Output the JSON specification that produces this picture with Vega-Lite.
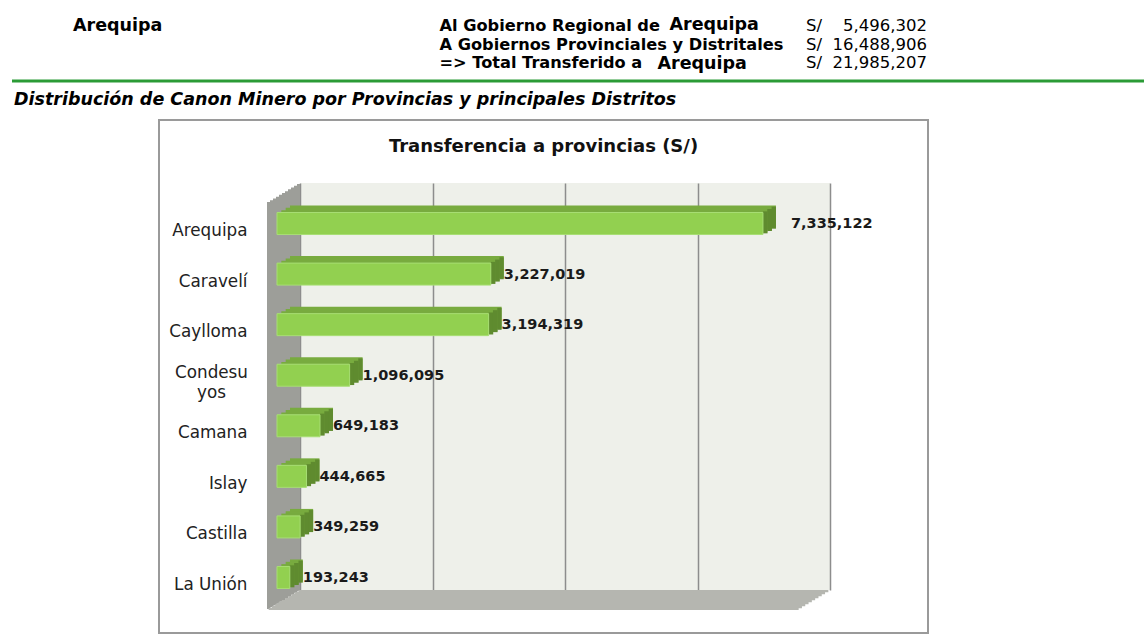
{
  "$schema": "https://vega.github.io/schema/vega-lite/v6.json",
  "padding": 0,
  "background": "#ffffff",
  "spacing": 72,
  "bounds": "flush",
  "config": {"view": {"stroke": null}, "concat": {"spacing": 0}},
  "datasets": {
    "header": [
      {"row": "r1", "col": "region", "part": "name", "text": "Arequipa"},
      {"row": "r1", "col": "concept", "part": "label", "text": "Al Gobierno Regional de"},
      {"row": "r1", "col": "concept", "part": "place", "text": "Arequipa"},
      {"row": "r1", "col": "amount", "part": "currency", "text": "S/"},
      {"row": "r1", "col": "amount", "part": "value", "amount": 5496302},
      {"row": "r2", "col": "concept", "part": "label", "text": "A Gobiernos Provinciales y Distritales"},
      {"row": "r2", "col": "amount", "part": "currency", "text": "S/"},
      {"row": "r2", "col": "amount", "part": "value", "amount": 16488906},
      {"row": "r3", "col": "concept", "part": "label", "text": "=> Total Transferido a"},
      {"row": "r3", "col": "concept", "part": "place", "text": "Arequipa"},
      {"row": "r3", "col": "amount", "part": "currency", "text": "S/"},
      {"row": "r3", "col": "amount", "part": "value", "amount": 21985207},
      {"row": "sub", "col": "region", "part": "subtitle", "text": "Distribución de Canon Minero por Provincias y principales Distritos"}
    ],
    "provinces": [
      {"province": "Arequipa", "amount": 7335122},
      {"province": "Caravelí", "amount": 3227019},
      {"province": "Caylloma", "amount": 3194319},
      {"province": "Condesuyos", "amount": 1096095},
      {"province": "Camana", "amount": 649183},
      {"province": "Islay", "amount": 444665},
      {"province": "Castilla", "amount": 349259},
      {"province": "La Unión", "amount": 193243}
    ]
  },
  "vconcat": [
    {
      "width": 1144,
      "height": 111,
      "data": {"name": "header"},
      "layer": [
        {
          "transform": [{"filter": "datum.part === 'name'"}],
          "mark": {"type": "text", "align": "left", "baseline": "middle", "font": "DejaVu Sans", "fontWeight": "bold", "fontSize": 17.5, "color": "#000000"},
          "encoding": {
            "x": {"field": "col", "type": "nominal", "scale": {"type": "point", "domain": ["region", "concept", "amount"], "padding": 0.5607, "align": 0.1776}, "axis": null},
            "y": {"field": "row", "type": "nominal", "scale": {"type": "point", "domain": ["r1", "r2", "r3", "line", "sub"], "padding": 1, "align": 0.703}, "axis": null},
            "text": {"field": "text"}
          }
        },
        {
          "transform": [{"filter": "datum.part === 'label'"}],
          "mark": {"type": "text", "align": "left", "baseline": "middle", "font": "DejaVu Sans", "fontWeight": "bold", "fontSize": 16.2, "color": "#000000"},
          "encoding": {"x": {"field": "col", "type": "nominal"}, "y": {"field": "row", "type": "nominal"}, "text": {"field": "text"}}
        },
        {
          "transform": [{"filter": "datum.part === 'place' && datum.row === 'r1'"}],
          "mark": {"type": "text", "align": "left", "baseline": "middle", "font": "DejaVu Sans", "fontWeight": "bold", "fontSize": 17.5, "color": "#000000", "dx": 230, "dy": -1},
          "encoding": {"x": {"field": "col", "type": "nominal"}, "y": {"field": "row", "type": "nominal"}, "text": {"field": "text"}}
        },
        {
          "transform": [{"filter": "datum.part === 'place' && datum.row === 'r3'"}],
          "mark": {"type": "text", "align": "left", "baseline": "middle", "font": "DejaVu Sans", "fontWeight": "bold", "fontSize": 17.5, "color": "#000000", "dx": 218, "dy": 1},
          "encoding": {"x": {"field": "col", "type": "nominal"}, "y": {"field": "row", "type": "nominal"}, "text": {"field": "text"}}
        },
        {
          "transform": [{"filter": "datum.part === 'currency'"}],
          "mark": {"type": "text", "align": "left", "baseline": "middle", "font": "DejaVu Sans", "fontSize": 16.5, "color": "#000000"},
          "encoding": {"x": {"field": "col", "type": "nominal"}, "y": {"field": "row", "type": "nominal"}, "text": {"field": "text"}}
        },
        {
          "transform": [{"filter": "datum.part === 'value'"}],
          "mark": {"type": "text", "align": "right", "baseline": "middle", "font": "DejaVu Sans", "fontSize": 16.5, "color": "#000000", "dx": 121},
          "encoding": {"x": {"field": "col", "type": "nominal"}, "y": {"field": "row", "type": "nominal"}, "text": {"field": "amount", "type": "quantitative", "format": ",d"}}
        },
        {
          "transform": [{"filter": "datum.part === 'subtitle'"}],
          "mark": {"type": "rule", "color": "#2b9b36", "strokeWidth": 3, "xOffset": 12, "yOffset": -19},
          "encoding": {"x": {"value": 0}, "x2": {"value": "width"}, "y": {"field": "row", "type": "nominal"}}
        },
        {
          "transform": [{"filter": "datum.part === 'subtitle'"}],
          "mark": {"type": "text", "align": "left", "baseline": "middle", "font": "DejaVu Sans", "fontWeight": "bold", "fontStyle": "italic", "fontSize": 17.5, "color": "#000000", "dx": -59},
          "encoding": {"x": {"field": "col", "type": "nominal"}, "y": {"field": "row", "type": "nominal"}, "text": {"field": "text"}}
        }
      ]
    },
    {
      "spacing": 0,
      "bounds": "flush",
      "hconcat": [
        {"width": 300, "height": 407, "data": {"values": [{}]}, "mark": {"type": "point", "opacity": 0, "size": 0}, "encoding": {"x": {"value": 0}, "y": {"value": 0}}},
        {
          "width": 530,
          "height": 407,
          "view": {"fill": "#eef0ea", "stroke": null},
          "data": {"name": "provinces"},
          "layer": [
            {"transform": [{"aggregate": [{"op": "count", "as": "n"}]}], "mark": {"type": "rect", "filled": false, "stroke": "#9a9a9a", "strokeWidth": 2, "xOffset": -141, "x2Offset": 98, "yOffset": -63, "y2Offset": 43}, "encoding": {"x": {"value": 0}, "x2": {"value": "width"}, "y": {"value": 0}, "y2": {"value": "height"}}},
            {"transform": [{"aggregate": [{"op": "count", "as": "n"}]}], "mark": {"type": "rect", "color": "#9d9e99", "xOffset": -33, "x2Offset": -29.5, "yOffset": 19.09, "y2Offset": 19.09}, "encoding": {"x": {"value": 0}, "x2": {"value": 0}, "y": {"value": 0}, "y2": {"value": "height"}}},
            {"transform": [{"aggregate": [{"op": "count", "as": "n"}]}], "mark": {"type": "rect", "color": "#9d9e99", "xOffset": -30, "x2Offset": -26.5, "yOffset": 17.27, "y2Offset": 17.27}, "encoding": {"x": {"value": 0}, "x2": {"value": 0}, "y": {"value": 0}, "y2": {"value": "height"}}},
            {"transform": [{"aggregate": [{"op": "count", "as": "n"}]}], "mark": {"type": "rect", "color": "#9d9e99", "xOffset": -27, "x2Offset": -23.5, "yOffset": 15.45, "y2Offset": 15.45}, "encoding": {"x": {"value": 0}, "x2": {"value": 0}, "y": {"value": 0}, "y2": {"value": "height"}}},
            {"transform": [{"aggregate": [{"op": "count", "as": "n"}]}], "mark": {"type": "rect", "color": "#9d9e99", "xOffset": -24, "x2Offset": -20.5, "yOffset": 13.64, "y2Offset": 13.64}, "encoding": {"x": {"value": 0}, "x2": {"value": 0}, "y": {"value": 0}, "y2": {"value": "height"}}},
            {"transform": [{"aggregate": [{"op": "count", "as": "n"}]}], "mark": {"type": "rect", "color": "#9d9e99", "xOffset": -21, "x2Offset": -17.5, "yOffset": 11.82, "y2Offset": 11.82}, "encoding": {"x": {"value": 0}, "x2": {"value": 0}, "y": {"value": 0}, "y2": {"value": "height"}}},
            {"transform": [{"aggregate": [{"op": "count", "as": "n"}]}], "mark": {"type": "rect", "color": "#9d9e99", "xOffset": -18, "x2Offset": -14.5, "yOffset": 10, "y2Offset": 10}, "encoding": {"x": {"value": 0}, "x2": {"value": 0}, "y": {"value": 0}, "y2": {"value": "height"}}},
            {"transform": [{"aggregate": [{"op": "count", "as": "n"}]}], "mark": {"type": "rect", "color": "#9d9e99", "xOffset": -15, "x2Offset": -11.5, "yOffset": 8.18, "y2Offset": 8.18}, "encoding": {"x": {"value": 0}, "x2": {"value": 0}, "y": {"value": 0}, "y2": {"value": "height"}}},
            {"transform": [{"aggregate": [{"op": "count", "as": "n"}]}], "mark": {"type": "rect", "color": "#9d9e99", "xOffset": -12, "x2Offset": -8.5, "yOffset": 6.36, "y2Offset": 6.36}, "encoding": {"x": {"value": 0}, "x2": {"value": 0}, "y": {"value": 0}, "y2": {"value": "height"}}},
            {"transform": [{"aggregate": [{"op": "count", "as": "n"}]}], "mark": {"type": "rect", "color": "#9d9e99", "xOffset": -9, "x2Offset": -5.5, "yOffset": 4.55, "y2Offset": 4.55}, "encoding": {"x": {"value": 0}, "x2": {"value": 0}, "y": {"value": 0}, "y2": {"value": "height"}}},
            {"transform": [{"aggregate": [{"op": "count", "as": "n"}]}], "mark": {"type": "rect", "color": "#9d9e99", "xOffset": -6, "x2Offset": -2.5, "yOffset": 2.73, "y2Offset": 2.73}, "encoding": {"x": {"value": 0}, "x2": {"value": 0}, "y": {"value": 0}, "y2": {"value": "height"}}},
            {"transform": [{"aggregate": [{"op": "count", "as": "n"}]}], "mark": {"type": "rect", "color": "#9d9e99", "xOffset": -3, "x2Offset": 0, "yOffset": 0.91, "y2Offset": 0.91}, "encoding": {"x": {"value": 0}, "x2": {"value": 0}, "y": {"value": 0}, "y2": {"value": "height"}}},
            {"transform": [{"aggregate": [{"op": "count", "as": "n"}]}], "mark": {"type": "rect", "color": "#b5b6b0", "xOffset": -1.65, "x2Offset": -1.65, "yOffset": 407, "y2Offset": 2.3}, "encoding": {"x": {"value": 0}, "x2": {"value": "width"}, "y": {"value": 0}, "y2": {"value": "height"}}},
            {"transform": [{"aggregate": [{"op": "count", "as": "n"}]}], "mark": {"type": "rect", "color": "#b5b6b0", "xOffset": -4.95, "x2Offset": -4.95, "yOffset": 409, "y2Offset": 4.3}, "encoding": {"x": {"value": 0}, "x2": {"value": "width"}, "y": {"value": 0}, "y2": {"value": "height"}}},
            {"transform": [{"aggregate": [{"op": "count", "as": "n"}]}], "mark": {"type": "rect", "color": "#b5b6b0", "xOffset": -8.25, "x2Offset": -8.25, "yOffset": 411, "y2Offset": 6.3}, "encoding": {"x": {"value": 0}, "x2": {"value": "width"}, "y": {"value": 0}, "y2": {"value": "height"}}},
            {"transform": [{"aggregate": [{"op": "count", "as": "n"}]}], "mark": {"type": "rect", "color": "#b5b6b0", "xOffset": -11.55, "x2Offset": -11.55, "yOffset": 413, "y2Offset": 8.3}, "encoding": {"x": {"value": 0}, "x2": {"value": "width"}, "y": {"value": 0}, "y2": {"value": "height"}}},
            {"transform": [{"aggregate": [{"op": "count", "as": "n"}]}], "mark": {"type": "rect", "color": "#b5b6b0", "xOffset": -14.85, "x2Offset": -14.85, "yOffset": 415, "y2Offset": 10.3}, "encoding": {"x": {"value": 0}, "x2": {"value": "width"}, "y": {"value": 0}, "y2": {"value": "height"}}},
            {"transform": [{"aggregate": [{"op": "count", "as": "n"}]}], "mark": {"type": "rect", "color": "#b5b6b0", "xOffset": -18.15, "x2Offset": -18.15, "yOffset": 417, "y2Offset": 12.3}, "encoding": {"x": {"value": 0}, "x2": {"value": "width"}, "y": {"value": 0}, "y2": {"value": "height"}}},
            {"transform": [{"aggregate": [{"op": "count", "as": "n"}]}], "mark": {"type": "rect", "color": "#b5b6b0", "xOffset": -21.45, "x2Offset": -21.45, "yOffset": 419, "y2Offset": 14.3}, "encoding": {"x": {"value": 0}, "x2": {"value": "width"}, "y": {"value": 0}, "y2": {"value": "height"}}},
            {"transform": [{"aggregate": [{"op": "count", "as": "n"}]}], "mark": {"type": "rect", "color": "#b5b6b0", "xOffset": -24.75, "x2Offset": -24.75, "yOffset": 421, "y2Offset": 16.3}, "encoding": {"x": {"value": 0}, "x2": {"value": "width"}, "y": {"value": 0}, "y2": {"value": "height"}}},
            {"transform": [{"aggregate": [{"op": "count", "as": "n"}]}], "mark": {"type": "rect", "color": "#b5b6b0", "xOffset": -28.05, "x2Offset": -28.05, "yOffset": 423, "y2Offset": 18.3}, "encoding": {"x": {"value": 0}, "x2": {"value": "width"}, "y": {"value": 0}, "y2": {"value": "height"}}},
            {"transform": [{"aggregate": [{"op": "count", "as": "n"}]}], "mark": {"type": "rect", "color": "#b5b6b0", "xOffset": -31.35, "x2Offset": -31.35, "yOffset": 425, "y2Offset": 20}, "encoding": {"x": {"value": 0}, "x2": {"value": "width"}, "y": {"value": 0}, "y2": {"value": "height"}}},
            {
              "mark": {"type": "bar", "color": "#78ab3f", "xOffset": -10, "x2Offset": -10, "yOffset": 7},
              "encoding": {
                "x": {"field": "amount", "type": "quantitative", "scale": {"type": "linear", "domain": [0, 8000000], "nice": false, "zero": true},
                  "axis": {"orient": "top", "values": [0, 2000000, 4000000, 6000000, 8000000], "grid": true, "gridColor": "#8d8d8d", "gridWidth": 1.5, "labels": false, "ticks": false, "domain": false,
                    "title": "Transferencia a provincias (S/)", "titleFont": "DejaVu Sans", "titleFontSize": 18, "titleFontWeight": "bold", "titleColor": "#111111", "titleX": 243, "titleY": -37, "titleBaseline": "middle", "titleAlign": "center"}},
                "y": {"field": "province", "type": "nominal", "sort": null,
                  "scale": {"type": "band", "domain": ["Arequipa", "Caravelí", "Caylloma", "Condesuyos", "Camana", "Islay", "Castilla", "La Unión"], "paddingInner": 0.565, "paddingOuter": 0.307},
                  "axis": {"orient": "left", "title": null, "domain": false, "ticks": false, "tickSize": 0, "grid": false,
                    "labelPadding": {"condition": {"test": "length(datum.value) > 9", "value": 89}, "value": 53},
                    "labelAlign": {"condition": {"test": "length(datum.value) > 9", "value": "center"}, "value": "right"},
                    "labelOffset": {"condition": {"test": "length(datum.value) > 9", "value": 11.5}, "value": 21.5},
                    "labelFont": "DejaVu Sans", "labelFontSize": 16.8, "labelColor": "#222222", "labelBaseline": "middle", "labelLineHeight": 20, "labelOverlap": false, "labelLimit": 300,
                    "labelExpr": "length(datum.label) > 9 ? [slice(datum.label, 0, 7), slice(datum.label, 7)] : datum.label"}}
              }
            },
            {"mark": {"type": "bar", "color": "#78ab3f", "xOffset": -14.33, "x2Offset": -14.33, "yOffset": 9.33}, "encoding": {"x": {"field": "amount", "type": "quantitative"}, "y": {"field": "province", "type": "nominal", "sort": null}}},
            {"mark": {"type": "bar", "color": "#78ab3f", "xOffset": -18.67, "x2Offset": -18.67, "yOffset": 11.67}, "encoding": {"x": {"field": "amount", "type": "quantitative"}, "y": {"field": "province", "type": "nominal", "sort": null}}},
            {"mark": {"type": "rect", "color": "#5f8b2f", "xOffset": -23, "x2Offset": -18.4, "yOffset": 12.83}, "encoding": {"x": {"field": "amount", "type": "quantitative"}, "x2": {"field": "amount"}, "y": {"field": "province", "type": "nominal", "sort": null}}},
            {"mark": {"type": "rect", "color": "#5f8b2f", "xOffset": -18.67, "x2Offset": -14.0, "yOffset": 10.5}, "encoding": {"x": {"field": "amount", "type": "quantitative"}, "x2": {"field": "amount"}, "y": {"field": "province", "type": "nominal", "sort": null}}},
            {"mark": {"type": "rect", "color": "#5f8b2f", "xOffset": -14.33, "x2Offset": -10, "yOffset": 8.17}, "encoding": {"x": {"field": "amount", "type": "quantitative"}, "x2": {"field": "amount"}, "y": {"field": "province", "type": "nominal", "sort": null}}},
            {"mark": {"type": "bar", "fill": "#92d050", "stroke": "#a8de74", "strokeWidth": 1, "xOffset": -23, "x2Offset": -23, "yOffset": 14}, "encoding": {"x": {"field": "amount", "type": "quantitative"}, "y": {"field": "province", "type": "nominal", "sort": null}}},
            {
              "transform": [{"filter": "datum.province !== 'Arequipa'"}],
              "mark": {"type": "text", "align": "left", "baseline": "middle", "dx": -10, "dy": 14.5, "font": "DejaVu Sans", "fontWeight": "bold", "fontSize": 14.5, "color": "#1a1a1a"},
              "encoding": {"x": {"field": "amount", "type": "quantitative"}, "y": {"field": "province", "type": "nominal", "sort": null}, "text": {"field": "amount", "type": "quantitative", "format": ",d"}}
            },
            {
              "transform": [{"filter": "datum.province === 'Arequipa'"}],
              "mark": {"type": "text", "align": "left", "baseline": "middle", "dx": 5, "dy": 14.5, "font": "DejaVu Sans", "fontWeight": "bold", "fontSize": 14.5, "color": "#1a1a1a"},
              "encoding": {"x": {"field": "amount", "type": "quantitative"}, "y": {"field": "province", "type": "nominal", "sort": null}, "text": {"field": "amount", "type": "quantitative", "format": ",d"}}
            }
          ]
        }
      ]
    }
  ]
}
